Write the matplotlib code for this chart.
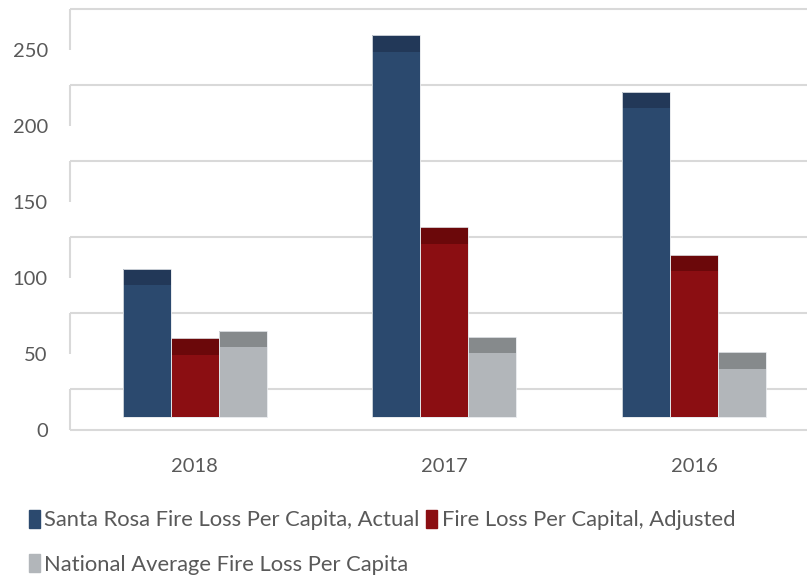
import matplotlib.pyplot as plt
import numpy as np
from matplotlib.patches import Patch

# values
years = ['2018', '2017', '2016']
actual = [86.8, 240.3, 203.0]
adjusted = [40.8, 113.8, 96.0]
national = [46.0, 41.9, 31.6]
yticks = [0, 50, 100, 150, 200, 250]

series = [
    ('Santa Rosa Fire Loss Per Capita, Actual', actual, '#2b496e', '#223858'),
    ('Fire Loss Per Capital, Adjusted', adjusted, '#8b0e12', '#6b080a'),
    ('National Average Fire Loss Per Capita', national, '#b2b6ba', '#868a8c'),
]

# fake 3D look (Excel 3D column, straight on)
floor_shift = 8.55   # bars sit a bit behind the front edge
cap = 10.9           # visible top face
wall_shift = 27      # back wall gridlines

plt.rcParams['font.family'] = ['Lato', 'DejaVu Sans']

fig = plt.figure(figsize=(8.07, 5.77), dpi=100)
ax = fig.add_axes([70 / 807, 147 / 577, 1 - 70 / 807, 430 / 577])

x = np.arange(len(years))
w = 0.192
grid_c = '#d9d9d9'

# back wall gridlines + side wall segments
for v in yticks:
    ax.hlines(v + wall_shift, -0.5, 3, color=grid_c, lw=1.5, zorder=1)
    ax.vlines(-0.5, v, v + wall_shift, color=grid_c, lw=1.5, zorder=1, clip_on=False)
ax.hlines(0, -0.5, 3, color=grid_c, lw=1.5, zorder=1, clip_on=False)

for i, (name, vals, col, topcol) in enumerate(series):
    xs = x + (i - 1) * w
    vals = np.array(vals)
    ax.bar(xs, vals, w, bottom=floor_shift, color=col, lw=0, zorder=3)
    ax.bar(xs, cap, w, bottom=vals + floor_shift, color=topcol, lw=0, zorder=3)
    ax.bar(xs, vals + cap, w, bottom=floor_shift, fill=False,
           edgecolor='#e4e7ea', lw=0.6, zorder=4)

ax.set_xlim(-0.5, 2.453)
ax.set_ylim(0, 430 / 1.52)
ax.set_yticks(yticks)
ax.set_yticklabels([str(v) for v in yticks], fontsize=14.5, color='#595959')
ax.set_xticks(x)
ax.set_xticklabels(years, fontsize=14.5, color='#595959')
ax.tick_params(axis='y', length=0, pad=16)
ax.tick_params(axis='x', length=0, pad=20)
for s in ax.spines.values():
    s.set_visible(False)

handles = [Patch(color=c) for _, _, c, _ in series]
labels = [s[0] for s in series]
order = [0, 2, 1]
fig.legend([handles[k] for k in order], [labels[k] for k in order],
           loc='upper left', bbox_to_anchor=(29 / 807, 1 - 510 / 577), ncol=2,
           frameon=False, fontsize=15.8, labelcolor='#595959',
           handlelength=0.5, handleheight=0.85, handletextpad=0.2,
           columnspacing=0.3, labelspacing=1.1, borderpad=0, borderaxespad=0)

fig.savefig('out.png', dpi=100)
